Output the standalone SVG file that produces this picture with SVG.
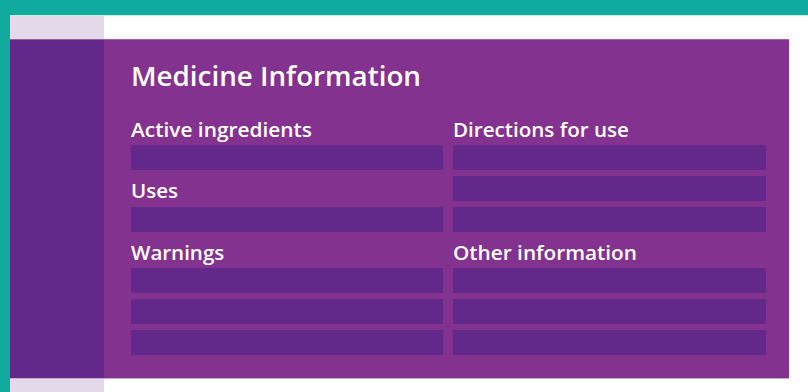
<svg xmlns="http://www.w3.org/2000/svg" width="808" height="392" viewBox="0 0 808 392">
<style>
.bar{fill:#62288a}
.lbl{font-family:"Open Sans","Noto Sans",sans-serif;font-size:20.5px;fill:#ffffff;font-weight:600}
.ttl{font-family:"Open Sans","Noto Sans",sans-serif;font-size:27.5px;fill:#ffffff;font-weight:600}
</style>
<rect x="0" y="0" width="808" height="392" fill="#ffffff"/>
<rect x="0" y="0" width="808" height="15" fill="#10aa9e"/>
<rect x="0" y="15" width="808" height="1" fill="#c8ece8"/>
<rect x="0" y="0" width="10" height="392" fill="#10aa9e"/>
<rect x="10" y="16" width="94" height="376" fill="#e3d9ea"/>
<rect x="10" y="39" width="94" height="339" fill="#62288a"/>
<rect x="104" y="39" width="685" height="339" fill="#84328f"/>
<rect x="10" y="39" width="779" height="1" fill="#a26aa9" opacity="0.8"/>
<rect x="10" y="378" width="779" height="1" fill="#c9a8cf"/>
<g id="title"><text class="ttl" x="131" y="86" textLength="290" lengthAdjust="spacingAndGlyphs">Medicine Information</text></g>
<g id="active-ingredients">
<text class="lbl" x="131" y="137" textLength="181" lengthAdjust="spacingAndGlyphs">Active ingredients</text>
<rect class="bar" x="131" y="145" width="312" height="25"/>
</g>
<g id="uses">
<text class="lbl" x="131" y="198">Uses</text>
<rect class="bar" x="131" y="207" width="312" height="25"/>
</g>
<g id="warnings">
<text class="lbl" x="131" y="260">Warnings</text>
<rect class="bar" x="131" y="268" width="312" height="25"/>
<rect class="bar" x="131" y="299" width="312" height="25"/>
<rect class="bar" x="131" y="330" width="312" height="25"/>
</g>
<g id="directions">
<text class="lbl" x="453" y="137" textLength="176" lengthAdjust="spacingAndGlyphs">Directions for use</text>
<rect class="bar" x="453" y="145" width="313" height="25"/>
<rect class="bar" x="453" y="176" width="313" height="25"/>
<rect class="bar" x="453" y="207" width="313" height="25"/>
</g>
<g id="other">
<text class="lbl" x="453" y="260" textLength="184" lengthAdjust="spacingAndGlyphs">Other information</text>
<rect class="bar" x="453" y="268" width="313" height="25"/>
<rect class="bar" x="453" y="299" width="313" height="25"/>
<rect class="bar" x="453" y="330" width="313" height="25"/>
</g>
<g id="connectors"/>
</svg>
